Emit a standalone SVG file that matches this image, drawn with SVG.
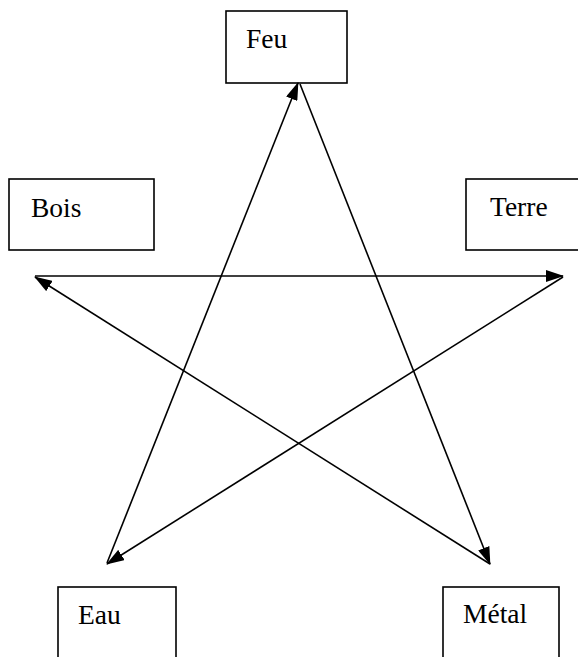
<svg xmlns="http://www.w3.org/2000/svg" width="578" height="657" viewBox="0 0 578 657">
<style>
.box{fill:#fff;stroke:#000;stroke-width:1.6}
.lbl{font-family:"Liberation Serif","Times New Roman",serif;font-size:27.5px;fill:#000}
.edge{stroke:#000;stroke-width:1.6;fill:none;marker-end:url(#ah)}
</style>
<defs>
<marker id="ah" markerUnits="userSpaceOnUse" markerWidth="18" markerHeight="12" refX="17" refY="6" orient="auto">
<path d="M0,0 L18,6 L0,12 z" fill="#000"/>
</marker>
</defs>
<rect width="578" height="657" fill="#fff"/>
<g id="feu"><rect class="box" x="226" y="11" width="121" height="72"/><text class="lbl" x="246" y="48">Feu</text></g>
<g id="bois"><rect class="box" x="9" y="179" width="145" height="71"/><text class="lbl" x="31" y="217">Bois</text></g>
<g id="terre"><rect class="box" x="466" y="179" width="130" height="71"/><text class="lbl" x="490" y="216">Terre</text></g>
<g id="eau"><rect class="box" x="58" y="587" width="118" height="90"/><text class="lbl" x="78" y="624">Eau</text></g>
<g id="metal"><rect class="box" x="443" y="587" width="116" height="90"/><text class="lbl" x="463" y="623">Métal</text></g>
<g id="connectors">
<line class="edge" x1="107" y1="563" x2="298" y2="83"/>
<line class="edge" x1="300" y1="84" x2="490" y2="564"/>
<line class="edge" x1="490" y1="564" x2="35" y2="277"/>
<line class="edge" x1="35" y1="276" x2="563" y2="276"/>
<line class="edge" x1="563" y1="277" x2="107" y2="564"/>
</g>
</svg>
